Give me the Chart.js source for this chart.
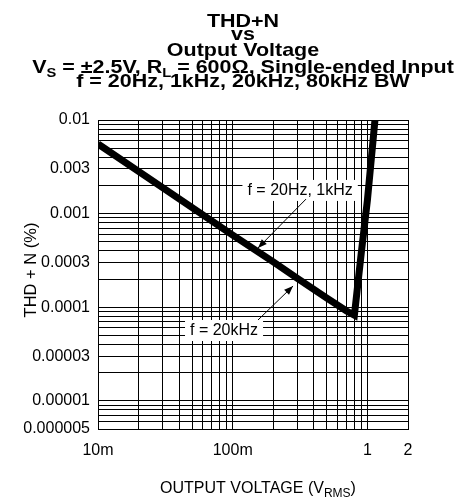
<!DOCTYPE html>
<html>
<head>
<meta charset="utf-8">
<script src="https://cdn.jsdelivr.net/npm/chart.js@4/dist/chart.umd.min.js"></script>
<style>
html,body{margin:0;padding:0;background:#fff;}
#wrap{width:466px;height:500px;position:relative;}
</style>
</head>
<body>
<div id="wrap"><canvas id="c" width="466" height="500"></canvas></div>
<script>
// ---- data ----
const voltage = [0.01, 0.02, 0.05, 0.1, 0.2, 0.3, 0.5, 0.7, 0.8, 0.9, 1.0, 1.14];
const thdN    = [0.00555, 0.00283, 0.00116, 0.00059, 0.000305, 0.000205, 0.000125, 0.000091, 0.000082, 0.00038, 0.0014, 0.0104];

const xTickValues = [0.01, 0.1, 1, 2];
const xTickLabels = ['10m', '100m', '1', '2'];
const yTickValues = [0.01, 0.003, 0.001, 0.0003, 0.0001, 0.00003, 0.00001, 0.000005];
const yTickLabels = ['0.01', '0.003', '0.001', '0.0003', '0.0001', '0.00003', '0.00001', '0.000005'];

const titleLines = ['THD+N', 'vs', 'Output Voltage'];
const subtitleParts = [['V', 0], ['S', 1], [' = \u00B12.5V, R', 0], ['L', 1], [' = 600\u03A9, Single-ended Input', 0]];
const subtitle2 = 'f = 20Hz, 1kHz, 20kHz, 80kHz BW';
const xTitleParts = [['OUTPUT VOLTAGE (V', 0], ['RMS', 1], [')', 0]];
const yTitle = 'THD + N (%)';

// annotations in data coordinates: label position, arrow start, arrow end
const annotations = [
  { text: 'f = 20Hz, 1kHz', at: [0.3165, 0.00179], from: [0.350, 0.00143], to: [0.154, 0.000429] },
  { text: 'f = 20kHz',      at: [0.0862, 0.0000571], from: [0.154, 0.0000730], to: [0.2804, 0.0001684] }
];

// log grid positions (1..9 per decade)
function logGrid(min, max) {
  const out = [];
  for (let e = -7; e <= 1; e++) {
    for (let m = 1; m <= 9; m++) {
      const v = m * Math.pow(10, e);
      if (v >= min * 0.9999 && v <= max * 1.0001) out.push(parseFloat(v.toPrecision(6)));
    }
  }
  return out;
}
function labelFor(v, vals, labs) {
  for (let i = 0; i < vals.length; i++) if (Math.abs(v - vals[i]) / vals[i] < 1e-6) return labs[i];
  return '';
}

const FONT = '"Liberation Sans", Arial, Helvetica, sans-serif';

function drawParts(ctx, parts, cx, baseline, size, subSize, weight, subDrop) {
  let total = 0;
  parts.forEach(p => { ctx.font = weight + ' ' + (p[1] ? subSize : size) + 'px ' + FONT; total += ctx.measureText(p[0]).width; });
  let x = cx - total / 2;
  ctx.textAlign = 'left';
  parts.forEach(p => {
    ctx.font = weight + ' ' + (p[1] ? subSize : size) + 'px ' + FONT;
    ctx.fillText(p[0], x, baseline + (p[1] ? subDrop : 0));
    x += ctx.measureText(p[0]).width;
  });
}

const textPlugin = {
  id: 'texts',
  afterDraw(chart) {
    const ctx = chart.ctx;
    ctx.save();
    ctx.fillStyle = '#000';
    ctx.textBaseline = 'alphabetic';
    // title (slightly widened to match the reference face)
    ctx.save();
    ctx.translate(243, 0);
    ctx.scale(1.13, 1);
    ctx.textAlign = 'center';
    ctx.font = 'bold 19px ' + FONT;
    const base = [27, 40, 56];
    titleLines.forEach((t, i) => ctx.fillText(t, 0, base[i]));
    drawParts(ctx, subtitleParts, 0, 73, 19, 13, 'bold', 4);
    ctx.textAlign = 'center';
    ctx.font = 'bold 19px ' + FONT;
    ctx.fillText(subtitle2, 0, 87);
    ctx.restore();
    // x title
    drawParts(ctx, xTitleParts, 258, 493, 16, 12, 'normal', 4);
    // y title
    ctx.save();
    ctx.translate(36, 270);
    ctx.rotate(-Math.PI / 2);
    ctx.textAlign = 'center';
    ctx.font = '16.5px ' + FONT;
    ctx.fillText(yTitle, 0, 0);
    ctx.restore();
    ctx.restore();
  },
  afterDatasetsDraw(chart) {
    const ctx = chart.ctx;
    const xs = chart.scales.x, ys = chart.scales.y;
    ctx.save();
    annotations.forEach(a => {
      const cx = xs.getPixelForValue(a.at[0]), cy = ys.getPixelForValue(a.at[1]);
      ctx.font = '16px ' + FONT;
      const w = ctx.measureText(a.text).width;
      ctx.fillStyle = '#fff';
      ctx.fillRect(cx - w / 2 - 5, cy - 10, w + 10, 21);
      ctx.fillStyle = '#000';
      ctx.textAlign = 'center';
      ctx.textBaseline = 'middle';
      ctx.fillText(a.text, cx, cy + 1);
      const x1 = xs.getPixelForValue(a.from[0]), y1 = ys.getPixelForValue(a.from[1]);
      const x2 = xs.getPixelForValue(a.to[0]), y2 = ys.getPixelForValue(a.to[1]);
      ctx.strokeStyle = '#000';
      ctx.lineWidth = 1;
      ctx.beginPath(); ctx.moveTo(x1, y1); ctx.lineTo(x2, y2); ctx.stroke();
      const ang = Math.atan2(y2 - y1, x2 - x1), L = 9, W = 3.5;
      ctx.beginPath();
      ctx.moveTo(x2, y2);
      ctx.lineTo(x2 - L * Math.cos(ang) + W * Math.sin(ang), y2 - L * Math.sin(ang) - W * Math.cos(ang));
      ctx.lineTo(x2 - L * Math.cos(ang) - W * Math.sin(ang), y2 - L * Math.sin(ang) + W * Math.cos(ang));
      ctx.closePath(); ctx.fill();
    });
    ctx.restore();
  }
};

new Chart(document.getElementById('c'), {
  type: 'line',
  data: {
    datasets: [{
      data: voltage.map((v, i) => ({ x: v, y: thdN[i] })),
      borderColor: '#000',
      borderWidth: 7,
      pointRadius: 0,
      tension: 0,
      fill: false,
      borderJoinStyle: 'miter'
    }]
  },
  options: {
    responsive: false,
    animation: false,
    devicePixelRatio: 1,
    layout: { padding: { left: 0, right: 58, top: 120, bottom: 0 } },
    plugins: { legend: { display: false }, title: { display: false }, tooltip: { enabled: false } },
    scales: {
      x: {
        type: 'logarithmic', min: 0.01, max: 2,
        afterBuildTicks: s => { s.ticks = logGrid(0.01, 2).map(v => ({ value: v })); },
        afterFit: s => { s.height = 71; },
        grid: { color: '#000', lineWidth: 1, drawTicks: false },
        border: { display: true, color: '#000', width: 1 },
        ticks: {
          autoSkip: false, maxRotation: 0, padding: 12, color: '#000',
          font: { family: FONT, size: 16 },
          callback: v => labelFor(v, xTickValues, xTickLabels)
        }
      },
      y: {
        type: 'logarithmic', min: 0.000005, max: 0.01,
        afterBuildTicks: s => { s.ticks = logGrid(0.000005, 0.01).map(v => ({ value: v })); },
        afterFit: s => { s.width = 98; },
        grid: { color: '#000', lineWidth: 1, drawTicks: false },
        border: { display: true, color: '#000', width: 1 },
        ticks: {
          autoSkip: false, padding: 8, color: '#000',
          font: { family: FONT, size: 16 },
          callback: v => labelFor(v, yTickValues, yTickLabels)
        }
      }
    }
  },
  plugins: [textPlugin]
});
</script>
</body>
</html>
